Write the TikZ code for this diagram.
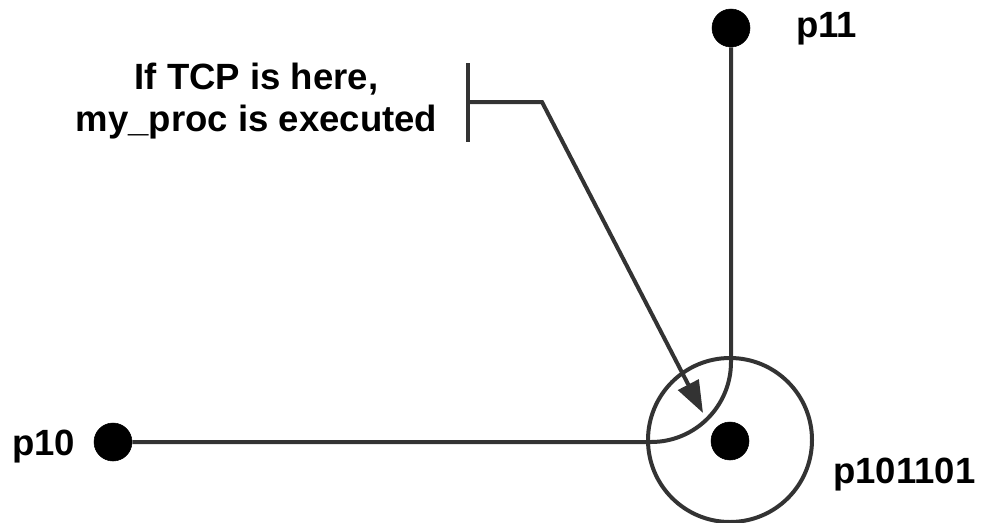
\documentclass[tikz,border=0pt]{standalone}
\usepackage{fontspec}
\setmainfont{Liberation Sans}
\usetikzlibrary{positioning,calc,arrows.meta}
\tikzset{bvert/.style={draw,circle,fill=black,minimum size=28.5pt,inner sep=0pt}  }
\tikzset{wire/.style={draw=black!80,line width=3pt}  }
\tikzset{ptext/.style={inner sep=0pt,anchor=base west,font=\bfseries\fontsize{27.4}{31.5}\selectfont}  }
\tikzset{>={Triangle[length=24pt,width=17pt]}}

\begin{document}
\begin{tikzpicture}[x=0.75pt,y=-0.75pt]
  % pixel grid of the figure, y running down
\useasboundingbox (0,0) rectangle (985,522);

    \node[circle,wire,minimum size=123pt,inner sep=0pt] (zone) at (730,440) {};
    \node[bvert] (p10) at (113,442) {};
    \node[bvert] (p11) at (731,28) {};
    \node[bvert] (p101101) at (730,441) {};

    \node[ptext] (t10) at (12,455) {p10};
    \node[ptext] (t11) at (796,37) {p11};
    \node[ptext] (t101101) at (833,483) {p101101};
    \node[ptext,anchor=center,align=center] (note) at (256.5,101.5) {If TCP is here,\\my\_proc is executed};

    \coordinate (bartop) at (468,63);
    \coordinate (barbot) at (468,142);
    \coordinate (bar) at (468,102);
    \coordinate (knee) at (542,102);
    \coordinate (tip) at (703,413);

\draw[wire,rounded corners=60pt] (p11) |- (p10);
\draw[wire] (bartop)--(barbot);
\draw[wire,->] (bar)--(knee)--(tip);
\end{tikzpicture}
\end{document}
